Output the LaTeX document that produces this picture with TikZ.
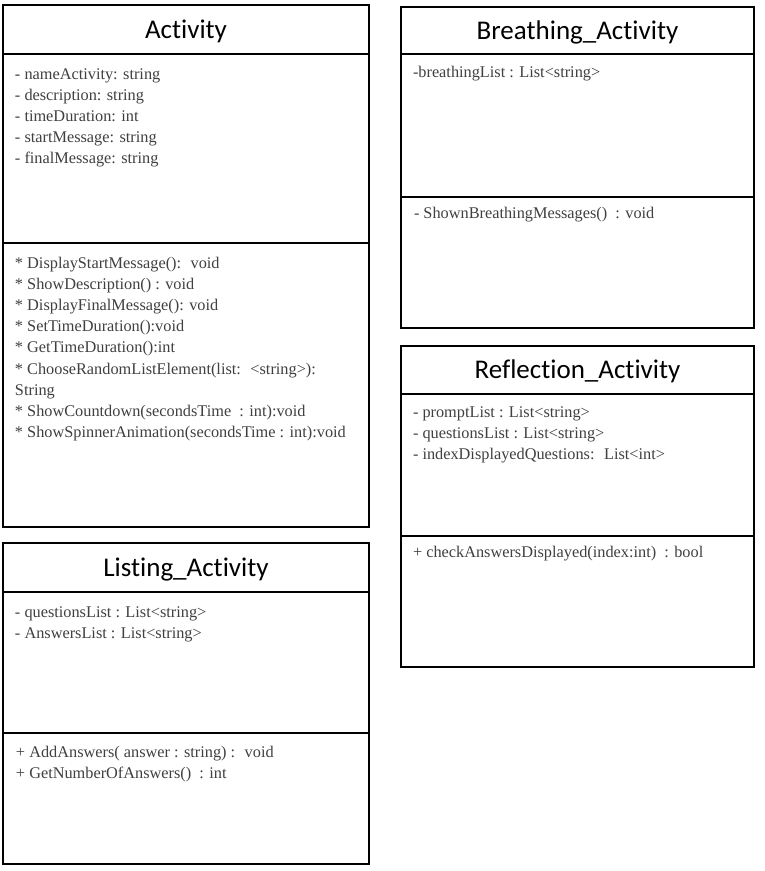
\documentclass[tikz,border=0pt]{standalone}
\usepackage{fontspec}
\setmainfont{Liberation Serif}
\newfontfamily\titlefont[Ligatures=NoCommon]{Carlito}
\definecolor{txtgray}{HTML}{404040}
\begin{document}
\begin{tikzpicture}[x=1pt,y=-1pt,
  comp/.style={draw=black, line width=1.8pt, anchor=north west, inner sep=0pt, outer sep=0pt},
  title/.style={comp, font=\titlefont\fontsize{27}{30}\selectfont, text height=20pt, text depth=3pt},
  members/.style={anchor=base west, inner sep=0pt, outer sep=0pt, text=txtgray,
    font=\fontsize{16.3}{21.1}\selectfont}
]
\useasboundingbox (0,0) rectangle (764,871);
\fill[white] (0,0) rectangle (764,871);

% Activity
\node[title, minimum width=366pt, minimum height=49pt] (actT) at (3,5) {Activity};
\node[comp, minimum width=366pt, minimum height=189pt] (actA) at (3,54) {};
\node[comp, minimum width=366pt, minimum height=284pt] (actO) at (3,243) {};
\node[members] (actAt) at (15,79) {\begin{tabular}[t]{@{}l@{}}
- nameActivity: string\\
- description: string\\
- timeDuration: int\\
- startMessage: string\\
- finalMessage: string
\end{tabular}};
\node[members] (actOt) at (15,268.5) {\begin{tabular}[t]{@{}l@{}}
{*} DisplayStartMessage():~ void\\
{*} ShowDescription() : void\\
{*} DisplayFinalMessage(): void\\
{*} SetTimeDuration():void\\
{*} GetTimeDuration():int\\
{*} ChooseRandomListElement(list:~ <string>):\\
String\\
{*} ShowCountdown(secondsTime~ : int):void\\
{*} ShowSpinnerAnimation(secondsTime : int):void
\end{tabular}};

% Listing_Activity
\node[title, minimum width=366pt, minimum height=49pt] (lisT) at (3,543) {Listing\_Activity};
\node[comp, minimum width=366pt, minimum height=141pt] (lisA) at (3,592) {};
\node[comp, minimum width=366pt, minimum height=131pt] (lisO) at (3,733) {};
\node[members] (lisAt) at (15,617) {\begin{tabular}[t]{@{}l@{}}
- questionsList : List<string>\\
- AnswersList : List<string>
\end{tabular}};
\node[members] (lisOt) at (16,757) {\begin{tabular}[t]{@{}l@{}}
+ AddAnswers( answer : string) :~ void\\
+ GetNumberOfAnswers()~ : int
\end{tabular}};

% Breathing_Activity
\node[title, minimum width=353pt, minimum height=47pt] (breT) at (401,7) {Breathing\_Activity};
\node[comp, minimum width=353pt, minimum height=143pt] (breA) at (401,54) {};
\node[comp, minimum width=353pt, minimum height=131pt] (breO) at (401,197) {};
\node[members] (breAt) at (413,77) {-breathingList : List<string>};
\node[members] (breOt) at (414,218) {- ShownBreathingMessages()~ : void};

% Reflection_Activity
\node[title, minimum width=353pt, minimum height=48pt] (refT) at (401,346) {Reflection\_Activity};
\node[comp, minimum width=353pt, minimum height=142pt] (refA) at (401,394) {};
\node[comp, minimum width=353pt, minimum height=131pt] (refO) at (401,536) {};
\node[members] (refAt) at (413,417) {\begin{tabular}[t]{@{}l@{}}
- promptList : List<string>\\
- questionsList : List<string>\\
- indexDisplayedQuestions:~ List<int>
\end{tabular}};
\node[members] (refOt) at (413,557) {+ checkAnswersDisplayed(index:int)~ : bool};
\end{tikzpicture}
\end{document}
